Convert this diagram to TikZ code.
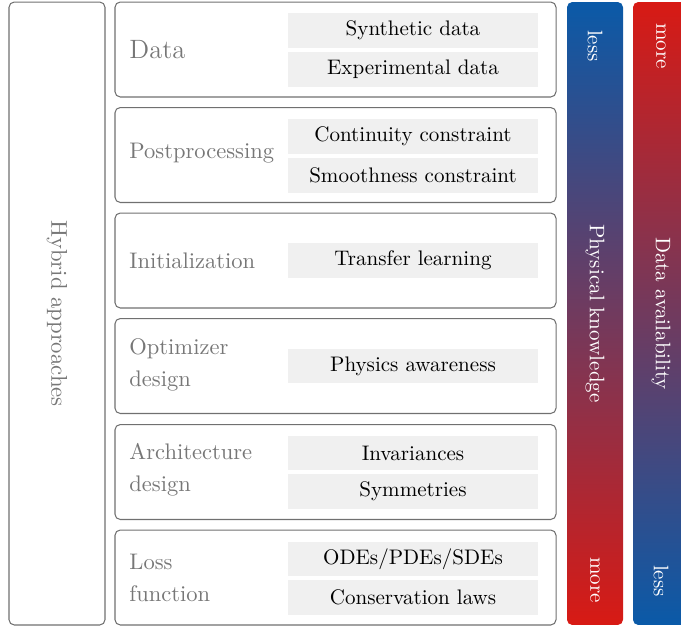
\documentclass[tikz,border=0pt]{standalone}
\usepackage{tikz}
\usetikzlibrary{positioning}
\definecolor{boxline}{HTML}{707070}
\definecolor{labelgray}{HTML}{777777}
\definecolor{itemfill}{HTML}{F0F0F0}
\definecolor{barblue}{HTML}{0A5AA8}
\definecolor{barred}{HTML}{D81A14}
\tikzstyle{catbox}=[rectangle, rounded corners=2.5pt, draw=boxline, line width=0.5pt, minimum width=209.5pt, minimum height=45.1pt, inner sep=0pt]
\tikzstyle{item}=[rectangle, fill=itemfill, minimum width=118.75pt, minimum height=16.6pt, inner sep=0pt, font=\fontsize{10}{12}\selectfont]
\tikzstyle{catlabel}=[align=left, anchor=west, inner sep=0pt, text=labelgray, font=\fontsize{10.7}{15.2}\selectfont]
\tikzstyle{bar}=[rectangle, rounded corners=2.5pt, minimum width=26.6pt, minimum height=295.9pt, inner sep=0pt]
\tikzstyle{bartext}=[text=white, rotate=-90, inner sep=0pt, font=\fontsize{10}{12}\selectfont]

\begin{document}
\begin{tikzpicture}[x=0.475pt, y=-0.475pt]
	\useasboundingbox (0,0) rectangle (681,628);
	\clip (0,0) rectangle (681,628);

	% left frame
	\node[catbox, minimum width=45.6pt, minimum height=295.9pt](hybrid) at (57,313.5){};
	\node[rotate=-90, text=labelgray, font=\fontsize{10.8}{13}\selectfont](hybridlabel) at (hybrid.center){Hybrid approaches};

	% categories
	\node[catbox](data) at (335.5,49.5){};
	\node[catlabel, font=\fontsize{12.6}{15}\selectfont](datalabel) at (129,50){Data};
	\node[item](synth) at (413,30.5){Synthetic data};
	\node[item](exper) at (413,69.5){Experimental data};

	\node[catbox](post) at (335.5,155){};
	\node[catlabel](postlabel) at (129,153){Postprocessing};
	\node[item](contin) at (413,136.5){Continuity constraint};
	\node[item](smooth) at (413,175.5){Smoothness constraint};

	\node[catbox](init) at (335.5,260.5){};
	\node[catlabel](initlabel) at (129,261){Initialization};
	\node[item](transfer) at (413,260.5){Transfer learning};

	\node[catbox](optim) at (335.5,366){};
	\node[catlabel](optimlabel) at (129,365){Optimizer\\design};
	\node[item](aware) at (413,366){Physics awareness};

	\node[catbox](arch) at (335.5,472){};
	\node[catlabel](archlabel) at (129,470){Architecture\\design};
	\node[item](invar) at (413,453){Invariances};
	\node[item](symm) at (413,491.5){Symmetries};

	\node[catbox](loss) at (335.5,577.5){};
	\node[catlabel](losslabel) at (129,578){Loss\\function};
	\node[item](odes) at (413,559){ODEs/PDEs/SDEs};
	\node[item](conserv) at (413,597.5){Conservation laws};

	% gradient bars
	\node[bar, top color=barblue, bottom color=barred](physbar) at (595,313.5){};
	\node[bartext](physless) at (595,46){less};
	\node[bartext](physmore) at (595,580){more};
	\node[bartext](physlabel) at (physbar.center){Physical knowledge};

	\node[bar, top color=barred, bottom color=barblue](availbar) at (661,313.5){};
	\node[bartext](availmore) at (661,46){more};
	\node[bartext](availless) at (661,581){less};
	\node[bartext](availlabel) at (availbar.center){Data availability};
\end{tikzpicture}
\end{document}
